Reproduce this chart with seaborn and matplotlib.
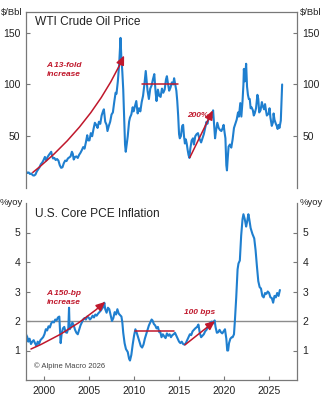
import matplotlib
matplotlib.use("Agg")
import matplotlib.pyplot as plt
import seaborn as sns
import numpy as np

# ---------------- data ----------------
wti_year = [1998.00, 1998.15, 1998.30, 1998.45, 1998.60, 1998.75, 1998.90, 1999.05, 1999.20, 1999.35,
            1999.50, 1999.65, 1999.80, 1999.95, 2000.10, 2000.25, 2000.40, 2000.55, 2000.70, 2000.80,
            2000.90, 2001.00, 2001.15, 2001.30, 2001.45, 2001.60, 2001.75, 2001.90, 2002.05, 2002.20,
            2002.35, 2002.50, 2002.65, 2002.80, 2002.95, 2003.10, 2003.20, 2003.30, 2003.45, 2003.60,
            2003.75, 2003.90, 2004.05, 2004.20, 2004.35, 2004.50, 2004.65, 2004.80, 2004.90, 2005.05,
            2005.20, 2005.35, 2005.50, 2005.65, 2005.80, 2005.95, 2006.10, 2006.25, 2006.40, 2006.55,
            2006.65, 2006.80, 2006.95, 2007.05, 2007.20, 2007.35, 2007.50, 2007.65, 2007.80, 2007.95,
            2008.05, 2008.20, 2008.35, 2008.50, 2008.58, 2008.70, 2008.80, 2008.90, 2009.00, 2009.08,
            2009.18, 2009.30, 2009.45, 2009.55, 2009.70, 2009.85, 2009.95, 2010.10, 2010.25, 2010.40,
            2010.55, 2010.70, 2010.85, 2011.00, 2011.15, 2011.30, 2011.40, 2011.50, 2011.65, 2011.80,
            2011.95, 2012.10, 2012.25, 2012.40, 2012.50, 2012.65, 2012.80, 2012.95, 2013.10, 2013.25,
            2013.40, 2013.55, 2013.65, 2013.75, 2013.90, 2014.05, 2014.20, 2014.35, 2014.45, 2014.55,
            2014.70, 2014.80, 2014.90, 2015.00, 2015.08, 2015.20, 2015.35, 2015.45, 2015.55, 2015.65,
            2015.75, 2015.85, 2015.95, 2016.05, 2016.15, 2016.25, 2016.40, 2016.55, 2016.65, 2016.80,
            2016.95, 2017.10, 2017.25, 2017.45, 2017.60, 2017.75, 2017.90, 2018.05, 2018.15, 2018.30,
            2018.45, 2018.55, 2018.70, 2018.78, 2018.88, 2019.00, 2019.10, 2019.25, 2019.40, 2019.55,
            2019.70, 2019.85, 2019.95, 2020.05, 2020.15, 2020.25, 2020.32, 2020.40, 2020.50, 2020.65,
            2020.80, 2020.95, 2021.10, 2021.25, 2021.40, 2021.55, 2021.65, 2021.80, 2021.92, 2022.05,
            2022.15, 2022.20, 2022.30, 2022.40, 2022.45, 2022.55, 2022.65, 2022.75, 2022.85, 2022.95,
            2023.05, 2023.20, 2023.30, 2023.40, 2023.55, 2023.70, 2023.80, 2023.90, 2024.05, 2024.20,
            2024.30, 2024.45, 2024.55, 2024.65, 2024.75, 2024.85, 2024.95, 2025.05, 2025.15, 2025.30,
            2025.45, 2025.50, 2025.60, 2025.75, 2025.85, 2025.95, 2026.05, 2026.15, 2026.30, 2026.45]
wti_price = [16, 14.5, 15, 13.5, 14, 12.3, 12, 13, 16, 18,
             20, 23, 24.5, 27, 30, 26.5, 30, 32, 33.7, 35,
             31, 28.5, 29, 27, 28, 26.5, 22, 19.5, 20, 24,
             26.5, 26, 28.5, 29.5, 30.5, 35, 33, 27.5, 30, 30.5,
             29, 32, 34, 36.5, 39.5, 38, 44, 51, 46, 46,
             53, 50, 57, 63, 61, 58, 64, 62, 70, 74,
             76, 64, 61, 55, 60, 64, 71, 73, 83, 92,
             91, 103, 120, 145, 128, 112, 95, 67, 42, 35,
             42, 50, 64, 68, 71, 78, 74, 79, 84, 72,
             77, 74, 83, 89, 100, 113, 103, 94, 86, 96,
             99, 105, 110, 92, 84, 95, 89, 88, 96, 92,
             95, 105, 108, 102, 94, 97, 102, 100, 106, 101,
             94, 84, 70, 52, 48, 50, 60, 61, 50, 43,
             47, 43, 37, 32, 29, 38, 46, 48, 42, 50,
             52, 53, 48, 44, 48, 52, 58, 64, 62, 68,
             70, 67, 70, 75, 63, 48, 55, 63, 58, 56,
             55, 58, 61, 54, 48, 22, 17, 28, 40, 42,
             39, 47, 58, 62, 66, 73, 69, 82, 69, 84,
             100, 115, 103, 115, 120, 98, 90, 86, 86, 77,
             78, 75, 70, 72, 77, 90, 86, 73, 75, 83,
             79, 76, 81, 75, 70, 71, 72, 77, 68, 60,
             64, 72, 66, 62, 60, 57, 61, 58, 65, 100]

pce_year = [1998.00, 1998.15, 1998.25, 1998.40, 1998.55, 1998.70, 1998.85, 1999.00, 1999.15, 1999.30,
            1999.45, 1999.60, 1999.75, 1999.90, 2000.05, 2000.20, 2000.35, 2000.50, 2000.65, 2000.80,
            2000.95, 2001.10, 2001.25, 2001.40, 2001.55, 2001.70, 2001.78, 2001.85, 2001.95, 2002.10,
            2002.25, 2002.40, 2002.55, 2002.70, 2002.78, 2002.85, 2003.00, 2003.15, 2003.30, 2003.45,
            2003.60, 2003.75, 2003.90, 2004.05, 2004.20, 2004.35, 2004.50, 2004.65, 2004.80, 2004.95,
            2005.10, 2005.25, 2005.40, 2005.55, 2005.70, 2005.85, 2006.00, 2006.15, 2006.30, 2006.45,
            2006.60, 2006.70, 2006.80, 2006.95, 2007.10, 2007.25, 2007.40, 2007.55, 2007.70, 2007.85,
            2008.00, 2008.15, 2008.30, 2008.45, 2008.60, 2008.70, 2008.80, 2008.95, 2009.10, 2009.30,
            2009.45, 2009.55, 2009.70, 2009.85, 2010.00, 2010.15, 2010.30, 2010.45, 2010.60, 2010.75,
            2010.90, 2011.05, 2011.20, 2011.35, 2011.50, 2011.65, 2011.80, 2011.95, 2012.05, 2012.20,
            2012.35, 2012.50, 2012.65, 2012.80, 2012.90, 2013.05, 2013.20, 2013.35, 2013.50, 2013.65,
            2013.80, 2013.95, 2014.10, 2014.25, 2014.40, 2014.55, 2014.70, 2014.85, 2015.00, 2015.15,
            2015.30, 2015.45, 2015.60, 2015.75, 2015.90, 2016.05, 2016.20, 2016.35, 2016.50, 2016.65,
            2016.80, 2017.00, 2017.15, 2017.30, 2017.45, 2017.60, 2017.75, 2017.90, 2018.05, 2018.20,
            2018.35, 2018.50, 2018.65, 2018.80, 2018.95, 2019.05, 2019.20, 2019.35, 2019.50, 2019.65,
            2019.80, 2019.95, 2020.10, 2020.25, 2020.35, 2020.45, 2020.55, 2020.70, 2020.85, 2020.95,
            2021.10, 2021.20, 2021.35, 2021.50, 2021.60, 2021.75, 2021.90, 2022.05, 2022.15, 2022.30,
            2022.45, 2022.55, 2022.70, 2022.80, 2022.95, 2023.15, 2023.35, 2023.50, 2023.65, 2023.80,
            2023.95, 2024.10, 2024.25, 2024.40, 2024.55, 2024.70, 2024.85, 2025.00, 2025.15, 2025.30,
            2025.45, 2025.60, 2025.75, 2025.90, 2026.05, 2026.20]
pce_yoy = [1.55, 1.45, 1.30, 1.40, 1.22, 1.30, 1.35, 1.25, 1.15, 1.30,
           1.22, 1.35, 1.40, 1.45, 1.55, 1.72, 1.68, 1.82, 1.78, 1.92,
           1.98, 1.95, 2.05, 2.02, 2.12, 2.15, 1.70, 1.25, 1.55, 1.75,
           1.80, 1.62, 1.60, 1.75, 2.45, 1.72, 1.80, 1.95, 1.85, 1.70,
           1.60, 1.55, 1.70, 1.85, 1.95, 2.05, 2.10, 2.05, 2.15, 2.12,
           2.05, 2.10, 2.18, 2.12, 2.22, 2.18, 2.25, 2.30, 2.35, 2.42,
           2.48, 2.62, 2.40, 2.28, 2.45, 2.40, 2.20, 2.00, 2.10, 2.30,
           2.22, 2.40, 2.25, 2.20, 2.15, 1.95, 1.60, 1.25, 1.05, 0.95,
           0.72, 0.66, 0.85, 1.20, 1.50, 1.72, 1.60, 1.45, 1.30, 1.15,
           1.10, 1.20, 1.40, 1.55, 1.70, 1.85, 1.95, 2.05, 2.02, 1.90,
           1.85, 1.75, 1.80, 1.62, 1.65, 1.45, 1.55, 1.48, 1.42, 1.58,
           1.50, 1.55, 1.45, 1.52, 1.55, 1.60, 1.50, 1.40, 1.30, 1.25,
           1.30, 1.22, 1.20, 1.25, 1.35, 1.45, 1.55, 1.52, 1.65, 1.70,
           1.75, 1.80, 1.88, 1.60, 1.45, 1.50, 1.55, 1.65, 1.70, 1.80,
           1.90, 1.95, 1.98, 1.92, 2.02, 1.80, 1.60, 1.62, 1.70, 1.62,
           1.58, 1.65, 1.72, 1.40, 1.00, 1.00, 1.25, 1.40, 1.45, 1.45,
           1.55, 2.00, 2.80, 3.75, 3.95, 4.05, 4.90, 5.45, 5.62, 5.45,
           5.20, 5.35, 5.62, 5.45, 5.15, 4.95, 4.80, 4.40, 3.85, 3.35,
           3.15, 3.10, 2.85, 2.80, 2.95, 2.92, 3.00, 2.95, 2.80, 2.78,
           2.62, 2.85, 2.80, 2.95, 2.85, 3.05]

wti_ticks = [50, 100, 150]
pce_ticks = [1, 2, 3, 4, 5]
year_ticks = [2000, 2005, 2010, 2015, 2020, 2025]

# annotation values
oil_arrow1 = [(1998.75, 15.0), (2008.9, 128.0)]
oil_plateau = [(2010.9, 2014.9), 100]
oil_arrow2 = [(2016.2, 29.5), (2018.75, 75.0)]
pce_arrow1 = [(1998.55, 1.05), (2006.8, 2.65)]
pce_plateau = [(2010.1, 2014.45), 1.66]
pce_arrow2 = [(2015.65, 1.19), (2019.0, 2.0)]
pce_ref = 2

# ---------------- styling ----------------
sns.set_theme(style="white")
plt.rcParams["font.family"] = ["Liberation Sans", "DejaVu Sans"]

BLUE = "#1f7fcf"
RED = "#c0182c"
SPINE = "#787878"
TXT = "#222222"

fig = plt.figure(figsize=(3.24, 4.0), dpi=100)
ax1 = fig.add_axes([26/324, 1-188/400, 271/324, 176/400])
ax2 = fig.add_axes([26/324, 1-380/400, 271/324, 177/400])

XMIN, XMAX = 1998.0, 2028.1

sns.lineplot(x=wti_year, y=wti_price, ax=ax1, color=BLUE, lw=1.5, estimator=None, sort=False)
sns.lineplot(x=pce_year, y=pce_yoy, ax=ax2, color=BLUE, lw=1.5, estimator=None, sort=False)

for ax in (ax1, ax2):
    ax.set_xlim(XMIN, XMAX)
    ax.set_xlabel("")
    ax.set_ylabel("")
    for s in ax.spines.values():
        s.set_color(SPINE)
        s.set_linewidth(0.9)
    ax.tick_params(axis="y", direction="in", length=3, width=0.8, color=SPINE,
                   left=True, right=True, labelleft=True, labelright=True,
                   labelsize=7.5, labelcolor=TXT, pad=4)

ax1.set_ylim(0, 170)
ax1.set_yticks(wti_ticks)
ax1.spines["bottom"].set_visible(False)
ax1.set_xticks([])

ax2.set_ylim(0, 6)
ax2.set_yticks(pce_ticks)
ax2.spines["top"].set_visible(False)
ax2.set_xticks(year_ticks)
ax2.tick_params(axis="x", direction="in", length=3, width=0.8, color=SPINE,
                bottom=True, labelsize=7.5, labelcolor=TXT, pad=4)

# titles
ax1.text(0.033, 0.943, "WTI Crude Oil Price", transform=ax1.transAxes, fontsize=8.6,
         color=TXT, ha="left", va="center")
ax2.text(0.033, 0.938, "U.S. Core PCE Inflation", transform=ax2.transAxes, fontsize=8.6,
         color=TXT, ha="left", va="center")

# unit labels
for ax, lab in ((ax1, "$/Bbl"), (ax2, "%yoy")):
    ax.annotate(lab, xy=(0, 1), xycoords="axes fraction", xytext=(-2.5, 0),
                textcoords="offset points", ha="right", va="center", fontsize=6.8, color=TXT,
                annotation_clip=False)
    ax.annotate(lab, xy=(1, 1), xycoords="axes fraction", xytext=(2, 0),
                textcoords="offset points", ha="left", va="center", fontsize=6.8, color=TXT,
                annotation_clip=False)

ax2.text(0.03, 0.08, "© Alpine Macro 2026", transform=ax2.transAxes, fontsize=5.5,
         color="#444444", ha="left", va="center")

# reference line
ax2.axhline(pce_ref, color="#8c8c8c", lw=1.0, zorder=1)

def arrow(ax, start, end, rad=0.0):
    ax.annotate("", xy=end, xytext=start,
                arrowprops=dict(arrowstyle="-|>,head_length=0.45,head_width=0.2", color=RED,
                                lw=1.1, shrinkA=0, shrinkB=0,
                                connectionstyle=f"arc3,rad={rad}"), zorder=5)

arrow(ax1, oil_arrow1[0], oil_arrow1[1], rad=0.12)
ax1.plot(oil_plateau[0], [oil_plateau[1]] * 2, color=RED, lw=1.1, zorder=5)
arrow(ax1, oil_arrow2[0], oil_arrow2[1])

arrow(ax2, pce_arrow1[0], pce_arrow1[1], rad=0.08)
ax2.plot(pce_plateau[0], [pce_plateau[1]] * 2, color=RED, lw=1.1, zorder=5)
arrow(ax2, pce_arrow2[0], pce_arrow2[1])

annot_kw = dict(color=RED, fontsize=6, fontweight="bold", fontstyle="italic",
                ha="center", va="center", linespacing=1.3)
ax1.text(2002.25, 114, "A 13-fold\nincrease", **annot_kw)
ax1.text(2017.05, 70, "200%", **annot_kw)
ax2.text(2002.2, 2.78, "A 150-bp\nincrease", **annot_kw)
ax2.text(2017.25, 2.29, "100 bps", **annot_kw)

fig.savefig("out.png", dpi=100)
